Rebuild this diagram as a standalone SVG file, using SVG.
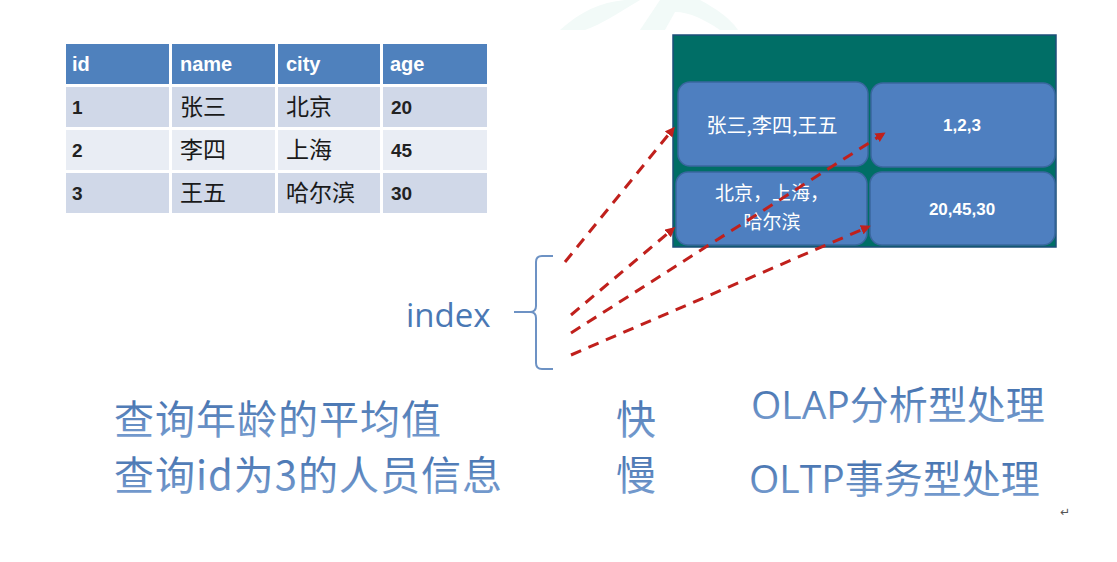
<svg xmlns="http://www.w3.org/2000/svg" width="1117" height="562" viewBox="0 0 1117 562">
<defs>
<style>
.hd{fill:#4f81bd}
.r1{fill:#d0d8e8}
.r2{fill:#e9edf4}
.ht{font-family:"Liberation Sans","Noto Sans CJK SC",sans-serif;font-size:20px;font-weight:bold;fill:#ffffff}
.bt{font-family:"Noto Sans CJK SC","Liberation Sans",sans-serif;font-size:23px;fill:#1a1a1a}
.nt{font-family:"Liberation Sans","Noto Sans CJK SC",sans-serif;font-size:19px;font-weight:bold;fill:#222}
.box{fill:#4e7fc0;stroke:#3a679f;stroke-width:1.5}
.bx{font-family:"Noto Sans CJK SC","Liberation Sans",sans-serif;font-size:20px;fill:#ffffff;text-anchor:middle}
.bx2{font-family:"Noto Sans CJK SC","Liberation Sans",sans-serif;font-size:19px;fill:#ffffff;text-anchor:middle}
.bn{font-family:"Liberation Sans","Noto Sans CJK SC",sans-serif;font-size:17px;font-weight:bold;fill:#ffffff;text-anchor:middle}
.dash{fill:none;stroke:#c0201c;stroke-width:3;stroke-dasharray:11 8;marker-end:url(#ah)}
.big{font-family:"Noto Sans CJK SC","Liberation Sans",sans-serif;font-size:40px;letter-spacing:1px;fill:url(#tg)}
.lat{font-family:"Open Sans","Noto Sans CJK SC",sans-serif;font-size:39px;fill:url(#tg)}
</style>
<linearGradient id="tg" x1="0" y1="0" x2="0" y2="1">
<stop offset="0" stop-color="#3a69a8"/>
<stop offset="1" stop-color="#7ea3d4"/>
</linearGradient>
<marker id="ah" markerWidth="10" markerHeight="10" refX="7" refY="5" orient="auto" markerUnits="userSpaceOnUse">
<path d="M0,0 L10,5 L0,10 Z" fill="#c0201c"/>
</marker>
</defs>
<rect width="1117" height="562" fill="#ffffff"/>
<g id="watermark" fill="#f2faf8">
<path d="M560,30 C580,12 600,2 625,0 L640,0 C620,12 600,25 585,30 Z"/>
<path d="M640,30 L660,0 L700,0 C715,8 730,18 738,30 L720,30 C705,20 690,12 675,12 L665,30 Z"/>
</g>
<g id="table">
<rect class="hd" x="66" y="44" width="103" height="40"/>
<rect class="hd" x="172" y="44" width="103" height="40"/>
<rect class="hd" x="278" y="44" width="102" height="40"/>
<rect class="hd" x="383" y="44" width="104" height="40"/>
<rect class="r1" x="66" y="87" width="103" height="40"/>
<rect class="r1" x="172" y="87" width="103" height="40"/>
<rect class="r1" x="278" y="87" width="102" height="40"/>
<rect class="r1" x="383" y="87" width="104" height="40"/>
<rect class="r2" x="66" y="130" width="103" height="40"/>
<rect class="r2" x="172" y="130" width="103" height="40"/>
<rect class="r2" x="278" y="130" width="102" height="40"/>
<rect class="r2" x="383" y="130" width="104" height="40"/>
<rect class="r1" x="66" y="173" width="103" height="40"/>
<rect class="r1" x="172" y="173" width="103" height="40"/>
<rect class="r1" x="278" y="173" width="102" height="40"/>
<rect class="r1" x="383" y="173" width="104" height="40"/>
<text class="ht" x="72" y="71">id</text>
<text class="ht" x="180" y="71">name</text>
<text class="ht" x="286" y="71">city</text>
<text class="ht" x="390" y="71">age</text>
<text class="nt" x="72" y="114">1</text>
<text class="bt" x="180" y="115">张三</text>
<text class="bt" x="286" y="115">北京</text>
<text class="nt" x="391" y="114">20</text>
<text class="nt" x="72" y="157">2</text>
<text class="bt" x="180" y="158">李四</text>
<text class="bt" x="286" y="158">上海</text>
<text class="nt" x="391" y="157">45</text>
<text class="nt" x="72" y="200">3</text>
<text class="bt" x="180" y="201">王五</text>
<text class="bt" x="286" y="201">哈尔滨</text>
<text class="nt" x="391" y="200">30</text>
</g>
<g id="store">
<rect x="673" y="35" width="383" height="212" fill="#006e66" stroke="#1d4f7a" stroke-width="1.5"/>
</g>
<g id="box-names">
<rect class="box" x="678" y="82" width="190" height="84" rx="12"/>
<text class="bx" x="772" y="133">张三,李四,王五</text>
</g>
<g id="box-ids">
<rect class="box" x="871" y="83" width="184" height="84" rx="12"/>
<text class="bn" x="962" y="131">1,2,3</text>
</g>
<g id="box-cities">
<rect class="box" x="676" y="172" width="191" height="73" rx="12"/>
<text class="bx2" x="772" y="200">北京，上海，</text>
<text class="bx2" x="772" y="229">哈尔滨</text>
</g>
<g id="box-ages">
<rect class="box" x="870" y="172" width="185" height="73" rx="12"/>
<text class="bn" x="962" y="215">20,45,30</text>
</g>
<g id="index">
<text x="406" y="327" font-family="'Open Sans','Liberation Sans',sans-serif" font-size="33" fill="#4a78b4">index</text>
<path d="M553,256 L542,256 Q536,256 536,262 L536,306 Q536,312 530,312 L514,312 M530,312 Q536,312 536,318 L536,363 Q536,369 542,369 L553,369" fill="none" stroke="#6d92c4" stroke-width="2"/>
</g>
<g id="connectors">
<path class="dash" d="M565,262 L673,129"/>
<path class="dash" d="M571,315 L673,229"/>
<path class="dash" d="M571,333 L883,134"/>
<path class="dash" d="M571,355 L868,227"/>
</g>
<g id="notes">
<text class="big" x="114" y="434">查询年龄的平均值</text>
<text class="big" x="114" y="490">查询id为3的人员信息</text>
<text class="big" x="616" y="434">快</text>
<text class="big" x="616" y="490">慢</text>
<text class="lat" x="751" y="419">OLAP分析型处理</text>
<text class="lat" x="749" y="493">OLTP事务型处理</text>
<text x="1060" y="516" font-family="'DejaVu Sans',sans-serif" font-size="12" fill="#555">↵</text>
</g>
</svg>
